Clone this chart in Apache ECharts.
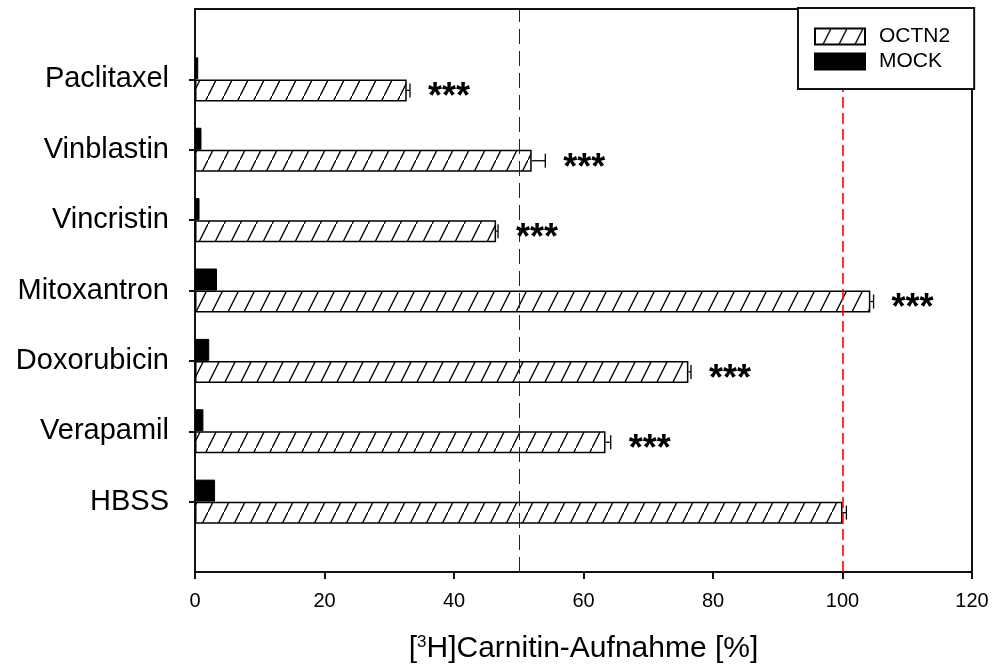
<!DOCTYPE html>
<html>
<head>
<meta charset="utf-8">
<script src="https://cdn.jsdelivr.net/npm/echarts@6/dist/echarts.min.js"></script>
<style>html,body{margin:0;padding:0;background:#fff}#c{width:995px;height:666px}</style>
</head>
<body>
<div id="c"></div>
<script>
// Categories from top to bottom as in the picture
const categories = ['Paclitaxel', 'Vinblastin', 'Vincristin', 'Mitoxantron', 'Doxorubicin', 'Verapamil', 'HBSS'];
const octn2 = [32.7, 52.0, 46.5, 104.3, 76.2, 63.4, 100.0];
const octn2Err = [0.5, 2.1, 0.3, 0.5, 0.4, 0.8, 0.6];
const mock = [0.5, 1.0, 0.7, 3.4, 2.2, 1.3, 3.1];
const significance = ['***', '***', '***', '***', '***', '***', ''];
const xTicks = { min: 0, max: 120, interval: 20 };
const refLines = [50, 100];

const FONT = '"Liberation Sans", Arial, sans-serif';
const BAR = 22;

function hatch() {
  const c = document.createElement('canvas');
  c.width = 16; c.height = 32;
  const g = c.getContext('2d');
  g.fillStyle = '#fff'; g.fillRect(0, 0, 16, 32);
  g.strokeStyle = '#000'; g.lineWidth = 1.3;
  g.beginPath(); g.moveTo(-2, 36); g.lineTo(18, -4); g.stroke();
  return c;
}

// y axis runs bottom -> top; add empty padding slots at both ends
const yCats = [''].concat(categories.slice().reverse(), ['']);
const rev = a => a.slice().reverse();
const octn2Data = rev(octn2).map((v, i) => [v, yCats[i + 1]]);
const mockData = rev(mock).map((v, i) => [v, yCats[i + 1]]);
const errData = categories.map((c, i) => [c, octn2[i], octn2Err[i], i]);

const chart = echarts.init(document.getElementById('c'));
chart.setOption({
  animation: false,
  backgroundColor: '#fff',
  grid: { left: 195, right: 23, top: 9, bottom: 94, show: true, borderColor: '#111', borderWidth: 2, backgroundColor: 'transparent', outerBoundsMode: 'none', containLabel: false },
  legend: {
    orient: 'vertical', left: 798, top: 8,
    padding: [18, 24, 17, 16],
    itemWidth: 50, itemHeight: 16, itemGap: 4,
    icon: 'rect',
    borderColor: '#111', borderWidth: 2, backgroundColor: '#fff',
    textStyle: { fontSize: 21, fontFamily: FONT, color: '#000', padding: [0, 0, 0, 9] },
    data: ['OCTN2', 'MOCK'],
    z: 10
  },
  xAxis: {
    type: 'value', min: xTicks.min, max: xTicks.max, interval: xTicks.interval,
    axisLine: { show: true, lineStyle: { color: '#111', width: 2 } },
    axisTick: { show: true, length: 7, lineStyle: { color: '#111', width: 2 } },
    splitLine: { show: false },
    axisLabel: { fontSize: 20, fontFamily: FONT, color: '#000', margin: 19 },
    name: '{a|[}{s|3}{a|H]Carnitin-Aufnahme [%]}',
    nameLocation: 'middle', nameGap: 62,
    nameTextStyle: {
      rich: {
        a: { fontSize: 30, fontFamily: FONT, color: '#000', lineHeight: 30 },
        s: { fontSize: 17, fontFamily: FONT, color: '#000', verticalAlign: 'top', lineHeight: 30, padding: [0, 0, 14, 0] }
      }
    }
  },
  yAxis: {
    type: 'category', data: yCats, boundaryGap: false,
    axisLine: { show: true, lineStyle: { color: '#111', width: 2 } },
    axisTick: { show: true, length: 6, lineStyle: { color: '#111', width: 2 }, interval: (i) => i > 0 && i < yCats.length - 1 },
    axisLabel: { fontSize: 29, fontFamily: FONT, color: '#000', margin: 26, interval: 0, padding: [4, 0, 0, 0] },
    splitLine: { show: false }
  },
  series: [
    {
      name: 'MOCK', type: 'bar', data: mockData, encode: { x: 0, y: 1 },
      barWidth: BAR, barGap: '0%',
      itemStyle: { color: '#000', borderColor: '#000', borderWidth: 1 }
    },
    {
      name: 'OCTN2', type: 'bar', data: octn2Data, encode: { x: 0, y: 1 },
      barWidth: BAR, barGap: '0%',
      itemStyle: { color: { image: hatch(), repeat: 'repeat' }, borderColor: '#000', borderWidth: 1.5 },
      markLine: {
        silent: true, symbol: 'none', label: { show: false },
        data: [
          { xAxis: refLines[0], lineStyle: { color: '#222', width: 1, type: [15, 7] } },
          { xAxis: refLines[1], lineStyle: { color: '#ff0000', width: 1.6, type: [11, 5] } }
        ]
      }
    },
    {
      type: 'custom', data: errData, encode: { y: 0, x: 1 }, z: 5,
      renderItem: function (params, api) {
        const i = api.value(3);
        const cat = api.value(0);
        const p0 = api.coord([api.value(1), cat]);
        const p1 = api.coord([api.value(1) + api.value(2), cat]);
        const y = p0[1] + BAR / 2;
        const children = [
          { type: 'line', shape: { x1: p0[0], y1: y, x2: p1[0], y2: y }, style: { stroke: '#000', lineWidth: 1.3 } },
          { type: 'line', shape: { x1: p1[0], y1: y - 7, x2: p1[0], y2: y + 7 }, style: { stroke: '#000', lineWidth: 1.3 } }
        ];
        if (significance[i]) {
          children.push({ type: 'text', style: { text: significance[i], x: p1[0] + 18, y: y + 8, font: 'bold 36px ' + FONT, verticalAlign: 'middle', align: 'left', fill: '#000' } });
        }
        return { type: 'group', children: children };
      }
    }
  ]
});
</script>
</body>
</html>
